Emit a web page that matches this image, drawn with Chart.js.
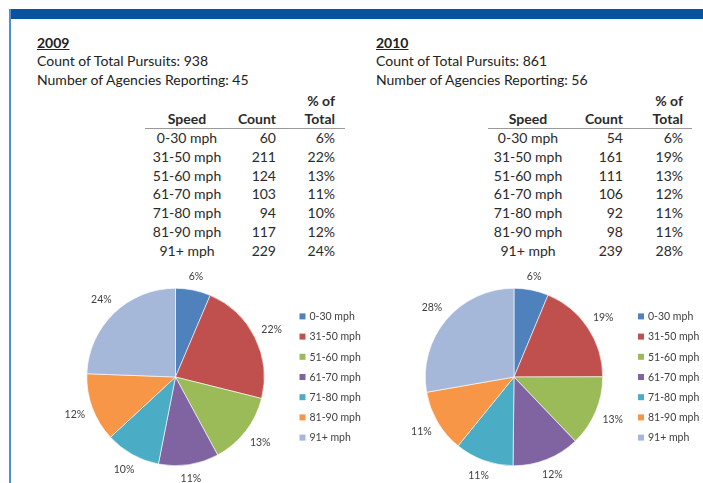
<!DOCTYPE html>
<html>
<head>
<meta charset="utf-8">
<script src="https://cdn.jsdelivr.net/npm/chart.js@4.4.0/dist/chart.umd.min.js"></script>
<style>
  html, body { margin: 0; padding: 0; background: #fff; }
  body { width: 703px; height: 483px; position: relative; overflow: hidden; font-family: Lato, "Open Sans", sans-serif; color: #222; }
  .topbar { position: absolute; left: 10px; top: 9px; width: 693px; height: 10px; background: #0654a0; }
  .leftline { position: absolute; left: 9px; top: 9px; width: 2px; height: 474px; background: #4f8ed8; }
  .t { position: absolute; white-space: nowrap; font-size: 14px; line-height: 18px; }
  .yr { font-weight: bold; text-decoration: underline; }
  .cell { position: absolute; white-space: nowrap; font-size: 14px; line-height: 18px; color: #2a2a2a; }
  .hdr { font-weight: bold; }
  .rule { position: absolute; height: 1px; background: #999; }
  canvas { position: absolute; }
</style>
</head>
<body>
<div class="topbar"></div>
<div class="leftline"></div>
<div id="panels"></div>
<canvas id="c1" width="390" height="221" style="left:0px;top:262px;width:390px;height:221px;"></canvas>
<canvas id="c2" width="363" height="221" style="left:340px;top:262px;width:363px;height:221px;"></canvas>
<script>
// ---- data ----
const categories = ['0-30 mph', '31-50 mph', '51-60 mph', '61-70 mph', '71-80 mph', '81-90 mph', '91+ mph'];
const counts2009 = [60, 211, 124, 103, 94, 117, 229];
const pct2009 = ['6%', '22%', '13%', '11%', '10%', '12%', '24%'];
const counts2010 = [54, 161, 111, 106, 92, 98, 239];
const pct2010 = ['6%', '19%', '13%', '12%', '11%', '11%', '28%'];
const years = ['2009', '2010'];
const totalPursuits = [938, 861];
const agenciesReporting = [45, 56];
const headerSpeed = 'Speed', headerCount = 'Count', headerPct1 = '% of', headerPct2 = 'Total';

const sliceColors = ['#4f81bd', '#c0504d', '#9bbb59', '#8064a2', '#4bacc6', '#f79646', '#a5b8da'];

// ---- text panels ----
const panels = document.getElementById('panels');
function addDiv(cls, text, left, centerY, align) {
  const d = document.createElement('div');
  d.className = cls;
  d.textContent = text;
  d.style.top = (centerY - 9) + 'px';
  if (align === 'right') { d.style.right = (703 - left) + 'px'; }
  else if (align === 'center') { d.style.left = left + 'px'; d.style.transform = 'translateX(-50%)'; }
  else { d.style.left = left + 'px'; }
  panels.appendChild(d);
  return d;
}
const layouts = [
  { tx: 37, speedC: 187, countR: 276, pctR: 335, ruleL: 145, ruleR: 345 },
  { tx: 376, speedC: 528, countR: 623, pctR: 683, ruleL: 488, ruleR: 692 }
];
const tableData = [[counts2009, pct2009], [counts2010, pct2010]];
layouts.forEach((L, p) => {
  addDiv('t yr', years[p], L.tx, 43);
  addDiv('t', 'Count of Total Pursuits: ' + totalPursuits[p], L.tx, 61);
  addDiv('t', 'Number of Agencies Reporting: ' + agenciesReporting[p], L.tx, 80);
  addDiv('cell hdr', headerPct1, L.pctR, 101, 'right');
  addDiv('cell hdr', headerSpeed, L.speedC, 119, 'center');
  addDiv('cell hdr', headerCount, L.countR, 119, 'right');
  addDiv('cell hdr', headerPct2, L.pctR, 119, 'right');
  const r = document.createElement('div');
  r.className = 'rule';
  r.style.left = L.ruleL + 'px'; r.style.width = (L.ruleR - L.ruleL) + 'px'; r.style.top = '128px';
  panels.appendChild(r);
  const [cnts, pcts] = tableData[p];
  categories.forEach((c, i) => {
    const y = 138 + i * 18.8;
    addDiv('cell', c, L.speedC, y, 'center');
    addDiv('cell', String(cnts[i]), L.countR, y, 'right');
    addDiv('cell', pcts[i], L.pctR, y, 'right');
  });
});

// ---- plugin: outside percent labels + legend ----
const decor = {
  id: 'decor',
  afterDraw(chart, args, opts) {
    const ctx = chart.ctx;
    const meta = chart.getDatasetMeta(0);
    ctx.save();
    ctx.font = '10.5px Lato, "Open Sans", sans-serif';
    ctx.fillStyle = '#404040';
    ctx.textAlign = 'center';
    ctx.textBaseline = 'middle';
    meta.data.forEach((arc, i) => {
      const a = (arc.startAngle + arc.endAngle) / 2;
      const r = arc.outerRadius;
      const txt = opts.labels[i];
      const w = ctx.measureText(txt).width, h = 11;
      const ext = Math.abs(Math.cos(a)) * w / 2 + Math.abs(Math.sin(a)) * h / 2;
      const d = r + 7 + ext;
      ctx.fillText(txt, arc.x + d * Math.cos(a), arc.y + d * Math.sin(a));
    });
    // legend
    const ca = chart.chartArea;
    const cy = (ca.top + ca.bottom) / 2;
    const lx = ca.right + opts.legendGap;
    ctx.textAlign = 'left';
    ctx.font = '10.5px Lato, "Open Sans", sans-serif';
    chart.data.labels.forEach((lab, i) => {
      const y = cy + (i - 3) * 20.2;
      ctx.fillStyle = chart.data.datasets[0].backgroundColor[i];
      ctx.fillRect(lx, y - 3, 6, 6);
      ctx.fillStyle = '#404040';
      ctx.fillText(lab, lx + 10, y + 0.5);
    });
    ctx.restore();
  }
};

function makePie(id, counts, pcts, pad, gap) {
  new Chart(document.getElementById(id), {
    type: 'pie',
    data: {
      labels: categories,
      datasets: [{ data: counts, backgroundColor: sliceColors, borderColor: '#ffffff', borderWidth: 0.6 }]
    },
    options: {
      responsive: false,
      animation: false,
      layout: { padding: pad },
      plugins: {
        legend: { display: false },
        tooltip: { enabled: false },
        decor: { labels: pcts, legendGap: gap }
      }
    },
    plugins: [decor]
  });
}
makePie('c1', counts2009, pct2009, { left: 86.5, right: 125.5, top: 26, bottom: 17 }, 35);
makePie('c2', counts2010, pct2010, { left: 85, right: 100, top: 26, bottom: 17 }, 35);
</script>
</body>
</html>
